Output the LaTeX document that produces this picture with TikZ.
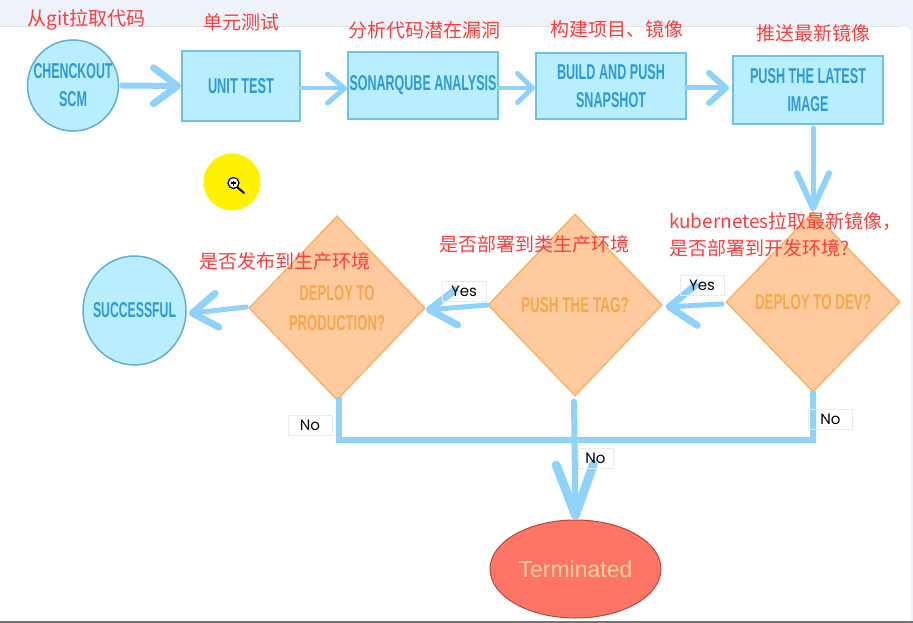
\documentclass[tikz,border=0pt]{standalone}
\usepackage{graphicx}
\usepackage{fontspec}
\setmainfont{Liberation Sans}
\newfontfamily\cjkfont{Noto Sans CJK SC}
\newfontfamily\labfont{Poppins}
\usetikzlibrary{arrows.meta,shapes.geometric,calc}
\definecolor{bluefill}{HTML}{B8EEFD}
\definecolor{blueline}{HTML}{6CC3E8}
\definecolor{roundline}{HTML}{5FB0D8}
\definecolor{bluetext}{HTML}{2E9BD6}
\definecolor{arrowblue}{HTML}{8FD2FB}
\definecolor{orangefill}{HTML}{FFCB9E}
\definecolor{orangeline}{HTML}{F6B36A}
\definecolor{orangetext}{HTML}{F5A849}
\definecolor{redfill}{HTML}{FF7565}
\definecolor{redline}{HTML}{B5483F}
\definecolor{termtext}{HTML}{FFD39A}
\definecolor{notered}{HTML}{FF3B3B}
\definecolor{topband}{HTML}{EEF2FA}
\definecolor{cursorfill}{HTML}{FFF200}
\newcommand{\captext}[2]{\resizebox{#1pt}{15pt}{\bfseries #2}}
\newcommand{\slimtext}[2]{\makebox[0pt]{\captext{#1}{#2}}}
\tikzset{
  flowbox/.style={draw=blueline,fill=bluefill,line width=2pt,rectangle,inner sep=0pt,align=center,text=bluetext,font=\fontsize{20}{28}\selectfont},
  flowround/.style={draw=roundline,fill=bluefill,line width=1.5pt,ellipse,inner sep=0pt,align=center,text=bluetext,font=\fontsize{20}{28}\selectfont},
  decision/.style={draw=orangeline,fill=orangefill,line width=1.5pt,diamond,aspect=0.95,inner sep=0pt,align=center,text=orangetext,font=\fontsize{20}{30}\selectfont},
  endstate/.style={draw=redline,fill=redfill,line width=1pt,ellipse,inner sep=0pt,text=termtext,font=\fontsize{23}{26}\selectfont},
  note/.style={text=notered,inner sep=0pt,align=left,font=\cjkfont\fontsize{19}{27}\selectfont},
  answer/.style={draw=black!8,fill=none,line width=1pt,inner sep=0pt,minimum width=44pt,minimum height=20pt,text=black,font=\labfont\fontsize{15}{17}\selectfont},
  barb/.style n args={4}{draw=arrowblue,line width=#1,line cap=round,-{Straight Barb[length=#2,width=#3,line width=#4,round]}},
  trunkline/.style={draw=arrowblue,line width=6pt}
}
\begin{document}
\begin{tikzpicture}[x=1pt,y=-1pt]
\useasboundingbox (0,0) rectangle (913,623);
\fill[topband] (0,0) rectangle (913,623);
\fill[black!12] (0,26) rectangle (900,27);
\fill[white,rounded corners=5pt] (-10,27) -- (911,27) -- (911,640) -- (-10,640) -- cycle;
\fill[black!55] (0,621) rectangle (913,623);

% yellow cursor marker
\node[circle,fill=cursorfill,minimum size=57pt,inner sep=0pt] (cursor) at (232,182) {};
\draw[black,line width=2pt,line cap=round] (237,187) -- (244,193);
\draw[black,fill=white,line width=1.2pt] (233.5,183) circle (5.5pt);
\draw[black,line width=1.1pt] (231,183) -- (236,183) (233.5,180.5) -- (233.5,185.5);

% nodes
\node[flowround,minimum width=91pt,minimum height=91pt] (checkout) at (73,85.5) {\slimtext{79}{CHENCKOUT}\\\slimtext{28}{SCM}};
\node[flowbox,minimum width=118pt,minimum height=70pt] (unit) at (241,86) {\captext{66}{UNIT TEST}};
\node[flowbox,minimum width=150pt,minimum height=67pt] (sonar) at (423,85.5) {\captext{147}{SONARQUBE ANALYSIS}};
\node[flowbox,minimum width=150pt,minimum height=66pt] (build) at (611,86) {\captext{108}{BUILD AND PUSH}\\\captext{70}{SNAPSHOT}};
\node[flowbox,minimum width=150pt,minimum height=68pt] (latest) at (808,90) {\captext{116}{PUSH THE LATEST}\\\captext{41}{IMAGE}};
\node[decision,minimum width=174pt,minimum height=180pt] (dev) at (813,302) {\captext{116}{DEPLOY TO DEV?}};
\node[decision,minimum width=174pt,minimum height=182pt] (tag) at (575,305) {\captext{108}{PUSH THE TAG?}};
\node[decision,minimum width=176pt,minimum height=184pt] (prod) at (337,308) {\captext{75}{DEPLOY TO}\\\captext{96}{PRODUCTION?}};
\node[flowround,minimum width=103pt,minimum height=109pt] (success) at (134.5,310.5) {\slimtext{83}{SUCCESSFUL}};
\node[endstate,minimum width=171pt,minimum height=98pt] (term) at (575.5,569) {Terminated};

% connectors
\coordinate (trunk) at (574,440);
\draw[barb={6pt}{24pt}{36pt}{7pt}] (checkout.east) ++(3pt,0pt) -- (unit.west);
\draw[barb={4pt}{17pt}{29pt}{5pt}] ([yshift=-2.5pt]unit.east) -- ([yshift=-3pt]sonar.west);
\draw[barb={4pt}{15pt}{29pt}{5pt}] ([yshift=-2.5pt]sonar.east) -- ([yshift=-2pt]build.west);
\draw[barb={5pt}{17pt}{30pt}{6pt}] ([yshift=-2pt]build.east) -- ([xshift=-3pt,yshift=2pt]latest.west);
\draw[barb={5pt}{35pt}{32pt}{6pt}] ([xshift=5pt,yshift=-3pt]latest.south) -- (dev.north);
\draw[barb={5pt}{27pt}{40pt}{7pt}] ([xshift=-3pt,yshift=-2pt]dev.west) -- ([xshift=3pt,yshift=-2pt]tag.east);
\draw[barb={5pt}{27pt}{35pt}{7pt}] (tag.west) -- ([yshift=-2pt]prod.east);
\draw[barb={5pt}{25pt}{34pt}{7pt}] ([xshift=-2pt,yshift=1pt]prod.west) -- ([xshift=2pt,yshift=-3pt]success.east);
\draw[trunkline,line join=miter] ([xshift=2pt,yshift=4pt]prod.south) -- ([xshift=2pt]prod.south |- trunk) -- (dev.south |- trunk) -- ([yshift=2pt]dev.south);
\draw[barb={6pt}{50pt}{37pt}{9pt}] ([xshift=-1pt,yshift=-5pt]tag.south) -- (term.north);

% answer labels
\node[answer] (yes1) at (702,285) {Yes};
\node[answer] (yes2) at (464,291) {Yes};
\node[answer] (no1) at (310,425) {No};
\node[answer,minimum width=35pt] (no2) at (595.5,458) {No};
\node[answer] (no3) at (830.5,419) {No};

% red notes
\node[note] (n1) at (86.5,19.5) {从git拉取代码};
\node[note] (n2) at (241,22.5) {单元测试};
\node[note] (n3) at (424.5,30.5) {分析代码潜在漏洞};
\node[note] (n4) at (616.5,29) {构建项目、镜像};
\node[note] (n5) at (813,33) {推送最新镜像};
\node[note,anchor=north west] (n6) at (669,212) {kubernetes拉取最新镜像，\\是否部署到开发环境?};
\node[note] (n7) at (534,244.5) {是否部署到类生产环境};
\node[note] (n8) at (284.5,261) {是否发布到生产环境};
\end{tikzpicture}
\end{document}
